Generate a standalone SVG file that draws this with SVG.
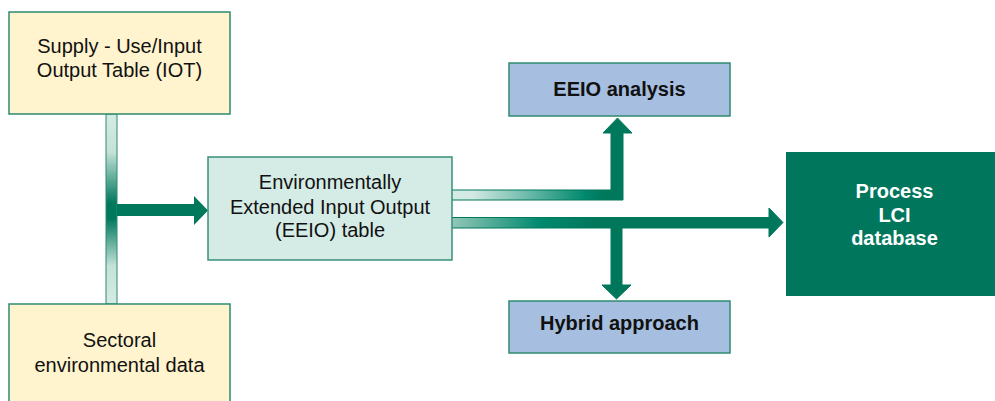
<svg xmlns="http://www.w3.org/2000/svg" width="995" height="401" viewBox="0 0 995 401">
<defs>
<linearGradient id="gV" gradientUnits="userSpaceOnUse" x1="0" y1="114" x2="0" y2="304">
<stop offset="0" stop-color="#d5ebe5"/>
<stop offset="0.2" stop-color="#c4e2d9"/>
<stop offset="0.47" stop-color="#00785c"/>
<stop offset="0.55" stop-color="#00785c"/>
<stop offset="0.8" stop-color="#c4e2d9"/>
<stop offset="1" stop-color="#d5ebe5"/>
</linearGradient>
<linearGradient id="gU" gradientUnits="userSpaceOnUse" x1="451" y1="0" x2="632" y2="0">
<stop offset="0" stop-color="#d5ebe5"/>
<stop offset="0.12" stop-color="#d3e9e3"/>
<stop offset="0.74" stop-color="#00896e"/>
<stop offset="0.84" stop-color="#00785c"/>
<stop offset="1" stop-color="#00785c"/>
</linearGradient>
<linearGradient id="gL" gradientUnits="userSpaceOnUse" x1="451" y1="0" x2="783" y2="0">
<stop offset="0" stop-color="#93c7b8"/>
<stop offset="0.27" stop-color="#00896e"/>
<stop offset="0.44" stop-color="#00765a"/>
<stop offset="1" stop-color="#00765a"/>
</linearGradient>
<style>
.yel{fill:#fff4cd;stroke:#2f8a70;stroke-width:1.5}
.blu{fill:#a6bedf;stroke:#2f8a70;stroke-width:1.5}
.mint{fill:#d5ebe5;stroke:#3a8f7a;stroke-width:1.5}
.t{font-family:"Liberation Sans",Arial,sans-serif;font-size:20px;fill:#111;text-anchor:middle}
.b{font-weight:bold}
.w{fill:#fff}
.conn{stroke:#00785c;stroke-width:1}
</style>
</defs>
<rect width="995" height="401" fill="#fff"/>

<g id="connectors">
<rect x="106" y="114" width="11" height="190" fill="url(#gV)" stroke="#2f8a70" stroke-width="1"/>
<path d="M117,204 L194,204 L194,196 L208,210.5 L194,225 L194,216 L117,216 Z" fill="#00785c"/>
<path class="conn" d="M451,190 L611,190 L611,133 L603,133 L617.5,118 L632,133 L623,133 L623,200 L451,200 Z" fill="url(#gU)"/>
<path class="conn" d="M451,217.5 L769,217.5 L769,208 L783,222.5 L769,237 L769,228 L622,228 L622,285 L631,285 L616.5,299 L602,285 L611,285 L611,228 L451,228 Z" fill="url(#gL)"/>
</g>

<g id="iot">
<rect class="yel" x="9" y="12" width="221" height="102"/>
<text class="t" x="119.5" y="53">Supply - Use/Input</text>
<text class="t" x="119.5" y="77">Output Table (IOT)</text>
</g>

<g id="sectoral">
<rect class="yel" x="9" y="304" width="221" height="110"/>
<text class="t" x="119.5" y="347">Sectoral</text>
<text class="t" x="119.5" y="372">environmental data</text>
</g>

<g id="eeio-table">
<rect class="mint" x="208" y="157" width="244" height="103"/>
<text class="t" x="330" y="189">Environmentally</text>
<text class="t" x="330" y="214">Extended Input Output</text>
<text class="t" x="330" y="237">(EEIO) table</text>
</g>

<g id="eeio-analysis">
<rect class="blu" x="509" y="63" width="221" height="53"/>
<text class="t b" x="619.5" y="96">EEIO analysis</text>
</g>

<g id="hybrid">
<rect class="blu" x="509" y="301" width="221" height="52"/>
<text class="t b" x="619.5" y="330">Hybrid approach</text>
</g>

<g id="process-lci">
<rect x="786" y="152" width="215" height="144" fill="#00775c"/>
<text class="t b w" x="894.5" y="198">Process</text>
<text class="t b w" x="894.5" y="222">LCI</text>
<text class="t b w" x="894.5" y="245">database</text>
</g>
</svg>
